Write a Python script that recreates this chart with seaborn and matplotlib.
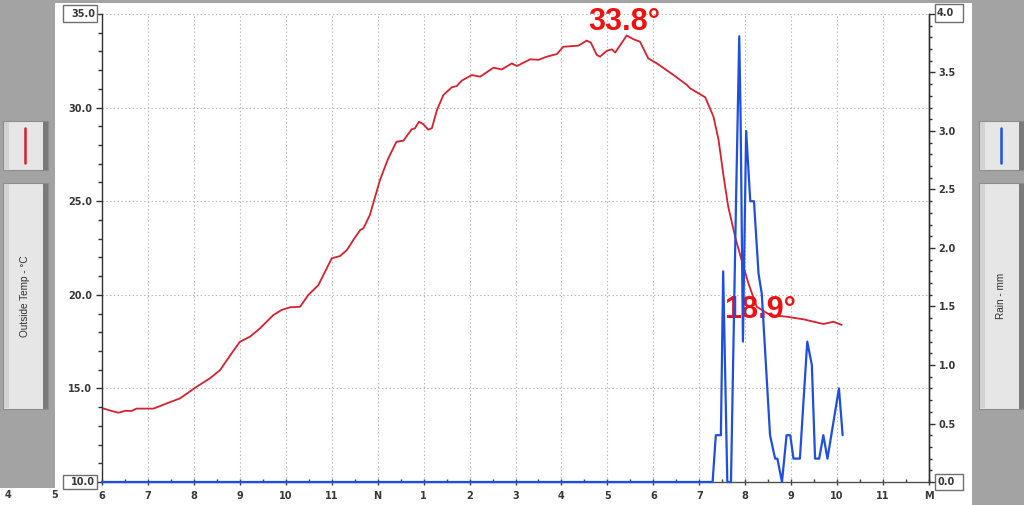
import numpy as np
import pandas as pd
import matplotlib
matplotlib.use("Agg")
import matplotlib.pyplot as plt
import seaborn as sns
from matplotlib.patches import Rectangle
from matplotlib.ticker import MultipleLocator

# ---------------- data ----------------
temp_hours = [6.00, 6.20, 6.36, 6.50, 6.65, 6.75, 7.12, 7.41, 7.70, 8.06, 8.35, 8.57, 8.82,
              9.00, 9.22, 9.44, 9.73, 9.91, 10.09, 10.31, 10.49, 10.71, 11.00, 11.18, 11.33,
              11.47, 11.62, 11.69, 11.83, 12.05, 12.23, 12.41, 12.56, 12.74, 12.81, 12.90,
              12.99, 13.10, 13.18, 13.29, 13.43, 13.61, 13.72, 13.83, 14.05, 14.23, 14.52,
              14.70, 14.92, 15.03, 15.32, 15.50, 15.68, 15.90, 16.04, 16.37, 16.55, 16.64,
              16.77, 16.84, 16.99, 17.10, 17.17, 17.42, 17.57, 17.71, 17.89, 18.07, 18.44,
              18.73, 18.80, 19.13, 19.31, 19.42, 19.53, 19.63, 19.78, 19.92, 20.07, 20.25,
              20.54, 20.90, 21.27, 21.70, 21.92, 22.10]
temp_values = [13.95, 13.80, 13.70, 13.80, 13.80, 13.92, 13.92, 14.20, 14.47, 15.09, 15.54,
               15.98, 16.87, 17.49, 17.76, 18.21, 18.92, 19.19, 19.33, 19.36, 19.99, 20.52,
               21.95, 22.07, 22.39, 22.93, 23.46, 23.55, 24.26, 26.13, 27.29, 28.18, 28.23,
               28.84, 28.89, 29.25, 29.12, 28.82, 28.90, 29.87, 30.67, 31.08, 31.15, 31.44,
               31.74, 31.65, 32.13, 32.04, 32.36, 32.22, 32.58, 32.55, 32.72, 32.86, 33.25,
               33.31, 33.58, 33.47, 32.81, 32.72, 33.04, 33.11, 32.94, 33.85, 33.65, 33.52,
               32.63, 32.37, 31.74, 31.21, 31.03, 30.55, 29.51, 28.27, 26.31, 24.71, 23.10,
               21.86, 20.61, 19.36, 18.92, 18.83, 18.69, 18.44, 18.56, 18.39]

rain_hours = [6.00, 19.29, 19.36, 19.47, 19.52, 19.61, 19.69, 19.80, 19.87, 19.90, 19.95,
              20.02, 20.11, 20.19, 20.29, 20.36, 20.54, 20.65, 20.70, 20.80, 20.90, 20.98,
              21.05, 21.19, 21.35, 21.45, 21.52, 21.61, 21.70, 21.79, 22.04, 22.12]
rain_values = [0.0, 0.0, 0.4, 0.4, 1.8, 0.0, 0.0, 2.4, 3.81, 3.1, 1.2, 3.0, 2.4, 2.4, 1.78,
               1.61, 0.4, 0.2, 0.2, 0.0, 0.4, 0.4, 0.2, 0.2, 1.2, 1.0, 0.2, 0.2, 0.4, 0.2,
               0.8, 0.4]

x_tick_hours = list(range(6, 25))
x_tick_labels = ["6", "7", "8", "9", "10", "11", "N", "1", "2", "3", "4", "5", "6", "7",
                 "8", "9", "10", "11", "M"]
temp_ticks = [10, 15, 20, 25, 30, 35]
rain_ticks = [0.0, 0.5, 1.0, 1.5, 2.0, 2.5, 3.0, 3.5, 4.0]
peak_label = "33.8°"
low_label = "18.9°"
left_title = "Outside Temp - °C"
right_title = "Rain - mm"

temp_df = pd.DataFrame({"hour": temp_hours, "temp": temp_values})
rain_df = pd.DataFrame({"hour": rain_hours, "rain": rain_values})

# ---------------- figure ----------------
sns.set_theme(style="white")
plt.rcParams["font.family"] = ["DejaVu Sans"]

W, H = 1024, 505
fig = plt.figure(figsize=(W / 100, H / 100), dpi=100)
fig.patch.set_facecolor("white")


def fx(x):
    return x / W


def fy(y):
    return 1 - y / H


def frect(x0, y0, x1, y1, **kw):
    fig.patches.append(Rectangle((fx(x0), fy(y1)), fx(x1) - fx(x0), fy(y0) - fy(y1),
                                 transform=fig.transFigure, **kw))


GRAY = "#a3a3a3"
frect(0, 0, 55, 488, facecolor=GRAY, edgecolor="none", zorder=0)
frect(972, 0, 1024, 505, facecolor=GRAY, edgecolor="none", zorder=0)
frect(0, 0, 1024, 3, facecolor=GRAY, edgecolor="none", zorder=0)


def panel(x0, color, title):
    for (y0, y1) in [(121, 170), (183, 409)]:
        frect(x0, y0, x0 + 45, y1, facecolor="#e6e6e6", edgecolor="#8c8c8c", lw=0.8, zorder=1)
        frect(x0 + 1, y0 + 1, x0 + 6, y1 - 1, facecolor="#d2d2d2", edgecolor="none", zorder=2)
        frect(x0 + 40, y0 + 1, x0 + 45, y1, facecolor="#7a7a7a", edgecolor="none", zorder=2)
    cx = x0 + 22
    fig.add_artist(plt.Line2D([fx(cx), fx(cx)], [fy(128), fy(163)], color=color, lw=1.8,
                              transform=fig.transFigure, zorder=3))
    fig.text(fx(cx), fy(296), title, rotation=90, ha="center", va="center", fontsize=7.2,
             family=["Liberation Sans", "DejaVu Sans"], color="#303030", zorder=3)


RED = "#d8202e"
BLUE = "#1f4fe0"
panel(3, RED, left_title)
panel(979, BLUE, right_title)

# axes region: x 102..929, y 14..482
ax = fig.add_axes([fx(102), fy(482), fx(929) - fx(102), fy(14) - fy(482)])
ax.set_facecolor("white")
ax2 = ax.twinx()

sns.lineplot(data=temp_df, x="hour", y="temp", ax=ax, color=RED, lw=1.3,
             estimator=None, sort=False)
sns.lineplot(data=rain_df, x="hour", y="rain", ax=ax2, color=BLUE, lw=1.6,
             estimator=None, sort=False)
for ln in ax2.lines:
    ln.set_clip_on(False)
    ln.set_zorder(5)

ax.set_xlim(6, 24)
ax.set_ylim(10, 35)
ax2.set_ylim(0, 4)
ax.set_xlabel("")
ax.set_ylabel("")
ax2.set_ylabel("")

# grid
grid_kw = dict(color="#b4b4b4", lw=0.8, linestyle=(0, (1.2, 2.2)))
for h in x_tick_hours[1:-1]:
    ax.axvline(h, zorder=0, **grid_kw)
for t in temp_ticks[1:]:
    ax.axhline(t, zorder=0, **grid_kw)

# spines
for a in (ax, ax2):
    a.spines["top"].set_visible(False)
    a.spines["left"].set_color("#303030")
    a.spines["right"].set_color("#303030")
    a.spines["bottom"].set_color("#505050")
    for s in a.spines.values():
        s.set_linewidth(1.0)
ax2.spines["left"].set_visible(False)
ax2.spines["bottom"].set_visible(False)

tick_font = dict(fontsize=7, fontweight="bold", color="#383838")

# x ticks
ax.set_xticks(x_tick_hours)
ax.set_xticklabels(x_tick_labels, **tick_font)
ax.xaxis.set_minor_locator(MultipleLocator(0.5))
ax.tick_params(axis="x", which="major", direction="inout", length=5, width=1,
               color="#404040", pad=4, bottom=True)
ax.tick_params(axis="x", which="minor", direction="in", length=2.5, width=1,
               color="#404040", bottom=True)

# left ticks
ax.set_yticks(temp_ticks)
ax.set_yticklabels(["" if t in (10, 35) else f"{t:.1f}" for t in temp_ticks], **tick_font)
ax.yaxis.set_minor_locator(MultipleLocator(1))
ax.tick_params(axis="y", which="major", direction="out", length=4, width=1,
               color="#303030", pad=3, left=True)
ax.tick_params(axis="y", which="minor", direction="out", length=3, width=1,
               color="#303030", left=True)

# right ticks
ax2.set_yticks(rain_ticks)
ax2.set_yticklabels(["" if r in (0.0, 4.0) else f"{r:.1f}" for r in rain_ticks], **tick_font)
ax2.yaxis.set_minor_locator(MultipleLocator(0.1))
ax2.tick_params(axis="y", which="major", direction="out", length=4, width=1,
                color="#303030", pad=3, right=True)
ax2.tick_params(axis="y", which="minor", direction="out", length=2.5, width=1,
                color="#303030", right=True)

# boxed end labels
BOX_EDGE = "#6e6e6e"
frect(63, 5, 97, 22, facecolor="white", edgecolor=BOX_EDGE, lw=1.0, zorder=5)
frect(63, 475, 97, 489, facecolor="white", edgecolor=BOX_EDGE, lw=1.0, zorder=5)
frect(935, 4, 963, 22, facecolor="white", edgecolor=BOX_EDGE, lw=1.0, zorder=5)
frect(935, 474, 963, 490, facecolor="white", edgecolor=BOX_EDGE, lw=1.0, zorder=5)
fig.text(fx(95), fy(14), f"{temp_ticks[-1]:.1f}", ha="right", va="center", zorder=6, **tick_font)
fig.text(fx(95), fy(482), f"{temp_ticks[0]:.1f}", ha="right", va="center", zorder=6, **tick_font)
fig.text(fx(937), fy(13), f"{rain_ticks[-1]:.1f}", ha="left", va="center", zorder=6, **tick_font)
fig.text(fx(937), fy(482), f"{rain_ticks[0]:.1f}", ha="left", va="center", zorder=6, **tick_font)

# labels for hours 4 and 5 outside the plot area
fig.text(fx(8), fy(495), "4", ha="center", va="center", **tick_font)
fig.text(fx(55), fy(495), "5", ha="center", va="center", **tick_font)

# annotations
ann_font = dict(fontsize=22, fontweight="bold", color="#f01010",
                family=["Liberation Sans", "DejaVu Sans"], ha="center", va="center")
ax.text(17.36, 34.57, peak_label, zorder=6, **ann_font)
ax.text(20.32, 19.19, low_label, zorder=6, **ann_font)

fig.savefig("out.png", dpi=100, facecolor=fig.get_facecolor())
